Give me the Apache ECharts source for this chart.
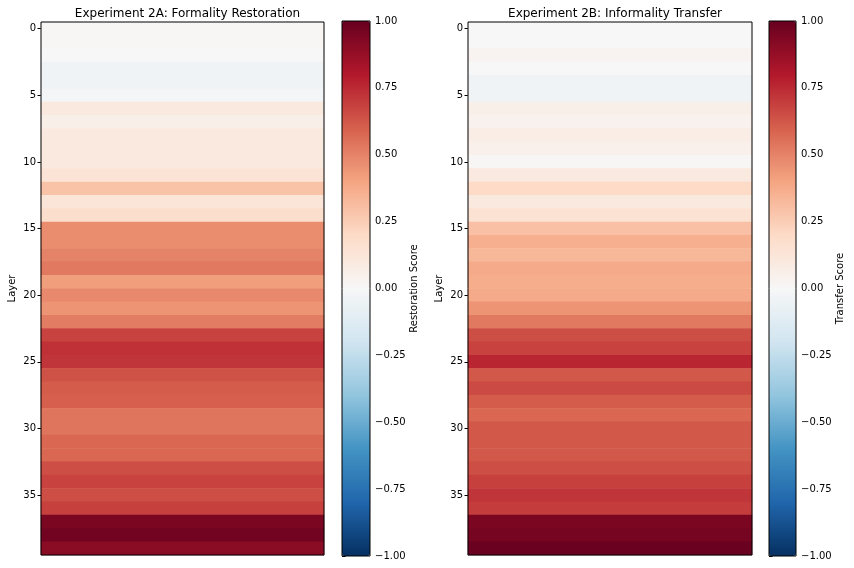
<!DOCTYPE html>
<html>
<head>
<meta charset="utf-8">
<script src="https://cdn.jsdelivr.net/npm/echarts@6/dist/echarts.min.js"></script>
<style>html,body{margin:0;padding:0;background:#fff}#c{width:854px;height:568px}</style>
</head>
<body>
<div id="c"></div>
<script>
var layers = [];
for (var i = 0; i < 40; i++) layers.push(String(i));
var restorationScores = [0.01, 0.01, 0.0, -0.04, -0.04, -0.02, 0.1, 0.06, 0.1, 0.1,
  0.1, 0.14, 0.29, 0.13, 0.18, 0.47, 0.47, 0.5, 0.53, 0.42,
  0.48, 0.45, 0.52, 0.68, 0.73, 0.72, 0.64, 0.61, 0.6, 0.54,
  0.54, 0.58, 0.58, 0.65, 0.68, 0.65, 0.69, 0.95, 0.97, 0.91];
var transferScores = [0.0, 0.0, 0.03, 0.0, -0.04, -0.04, 0.06, 0.04, 0.07, 0.05,
  0.01, 0.1, 0.2, 0.1, 0.15, 0.3, 0.36, 0.33, 0.38, 0.37,
  0.38, 0.45, 0.53, 0.65, 0.68, 0.76, 0.62, 0.66, 0.61, 0.58,
  0.62, 0.62, 0.62, 0.65, 0.69, 0.72, 0.7, 0.95, 0.96, 0.99];
var titles = ['Experiment 2A: Formality Restoration', 'Experiment 2B: Informality Transfer'];
var cbarLabels = ['Restoration Score', 'Transfer Score'];
var rdbu_r = ['#053061','#2166ac','#4393c3','#92c5de','#d1e5f0','#f7f7f7','#fddbc7','#f4a582','#d6604d','#b2182b','#67001f'];

var FONT = 'DejaVu Sans';
function toData(arr){ return arr.map(function(v,i){ return [0, i, v]; }); }

var heatGrids = [
  {left: 41, top: 22, width: 283, height: 533},
  {left: 468, top: 22, width: 284, height: 533}
];
var cbGrids = [
  {left: 342, top: 21, width: 28, height: 535},
  {left: 769, top: 21, width: 27, height: 535}
];

var grid = [], xAxis = [], yAxis = [], series = [], visualMap = [], title = [];
[restorationScores, transferScores].forEach(function(vals, k){
  var hg = heatGrids[k], cg = cbGrids[k];
  grid.push({left: hg.left, top: hg.top, width: hg.width, height: hg.height, show: true, borderColor: '#000', borderWidth: 1, backgroundColor: 'transparent', z: 5});
  grid.push({left: cg.left, top: cg.top, width: cg.width, height: cg.height, show: true, borderColor: '#000', borderWidth: 1, backgroundColor: 'transparent', z: 5});
  xAxis.push({type: 'category', gridIndex: 2*k, data: [''], axisLine: {show: false}, axisTick: {show: false}, axisLabel: {show: false}, splitLine: {show: false}});
  yAxis.push({type: 'category', gridIndex: 2*k, data: layers, inverse: true,
    name: 'Layer', nameLocation: 'middle', nameGap: 24, nameRotate: 90,
    nameTextStyle: {color: '#000', fontSize: 10, fontFamily: FONT},
    axisLine: {show: false},
    axisTick: {show: true, alignWithLabel: true, interval: 4, length: 3.5, lineStyle: {color: '#000'}},
    axisLabel: {interval: 4, color: '#000', fontSize: 10, fontFamily: FONT, margin: 5},
    splitLine: {show: false}});
  xAxis.push({type: 'value', gridIndex: 2*k+1, min: 0, max: 1, show: false});
  yAxis.push({type: 'value', gridIndex: 2*k+1, min: -1, max: 1, interval: 0.25, position: 'right',
    name: cbarLabels[k], nameLocation: 'middle', nameGap: 38, nameRotate: 90,
    nameTextStyle: {color: '#000', fontSize: 10, fontFamily: FONT},
    axisLine: {show: false},
    axisTick: {show: true, length: 3.5, lineStyle: {color: '#000'}},
    axisLabel: {color: '#000', fontSize: 10, fontFamily: FONT, margin: 5,
      formatter: function(v){ return v.toFixed(2).replace('-', '\u2212'); }},
    splitLine: {show: false}});
  series.push({type: 'heatmap', xAxisIndex: 2*k, yAxisIndex: 2*k, data: toData(vals), itemStyle: {borderWidth: 0}, emphasis: {disabled: true}, progressive: 0});
  series.push({type: 'line', xAxisIndex: 2*k+1, yAxisIndex: 2*k+1, data: [], silent: true});
  visualMap.push({type: 'continuous', seriesIndex: 2*k, min: -1, max: 1, calculable: false,
    inRange: {color: rdbu_r}, left: cg.left, top: cg.top, itemWidth: cg.width, itemHeight: cg.height,
    padding: 0, text: null, showLabel: false, realtime: false, hoverLink: false});
  title.push({text: titles[k], left: hg.left + hg.width/2, top: 3, textAlign: 'center',
    textStyle: {fontSize: 12, fontWeight: 'normal', color: '#000', fontFamily: FONT}});
});

var chart = echarts.init(document.getElementById('c'), null, {renderer: 'canvas'});
chart.setOption({
  animation: false,
  backgroundColor: '#fff',
  textStyle: {fontFamily: FONT},
  title: title,
  grid: grid,
  xAxis: xAxis,
  yAxis: yAxis,
  visualMap: visualMap,
  series: series
});
</script>
</body>
</html>
